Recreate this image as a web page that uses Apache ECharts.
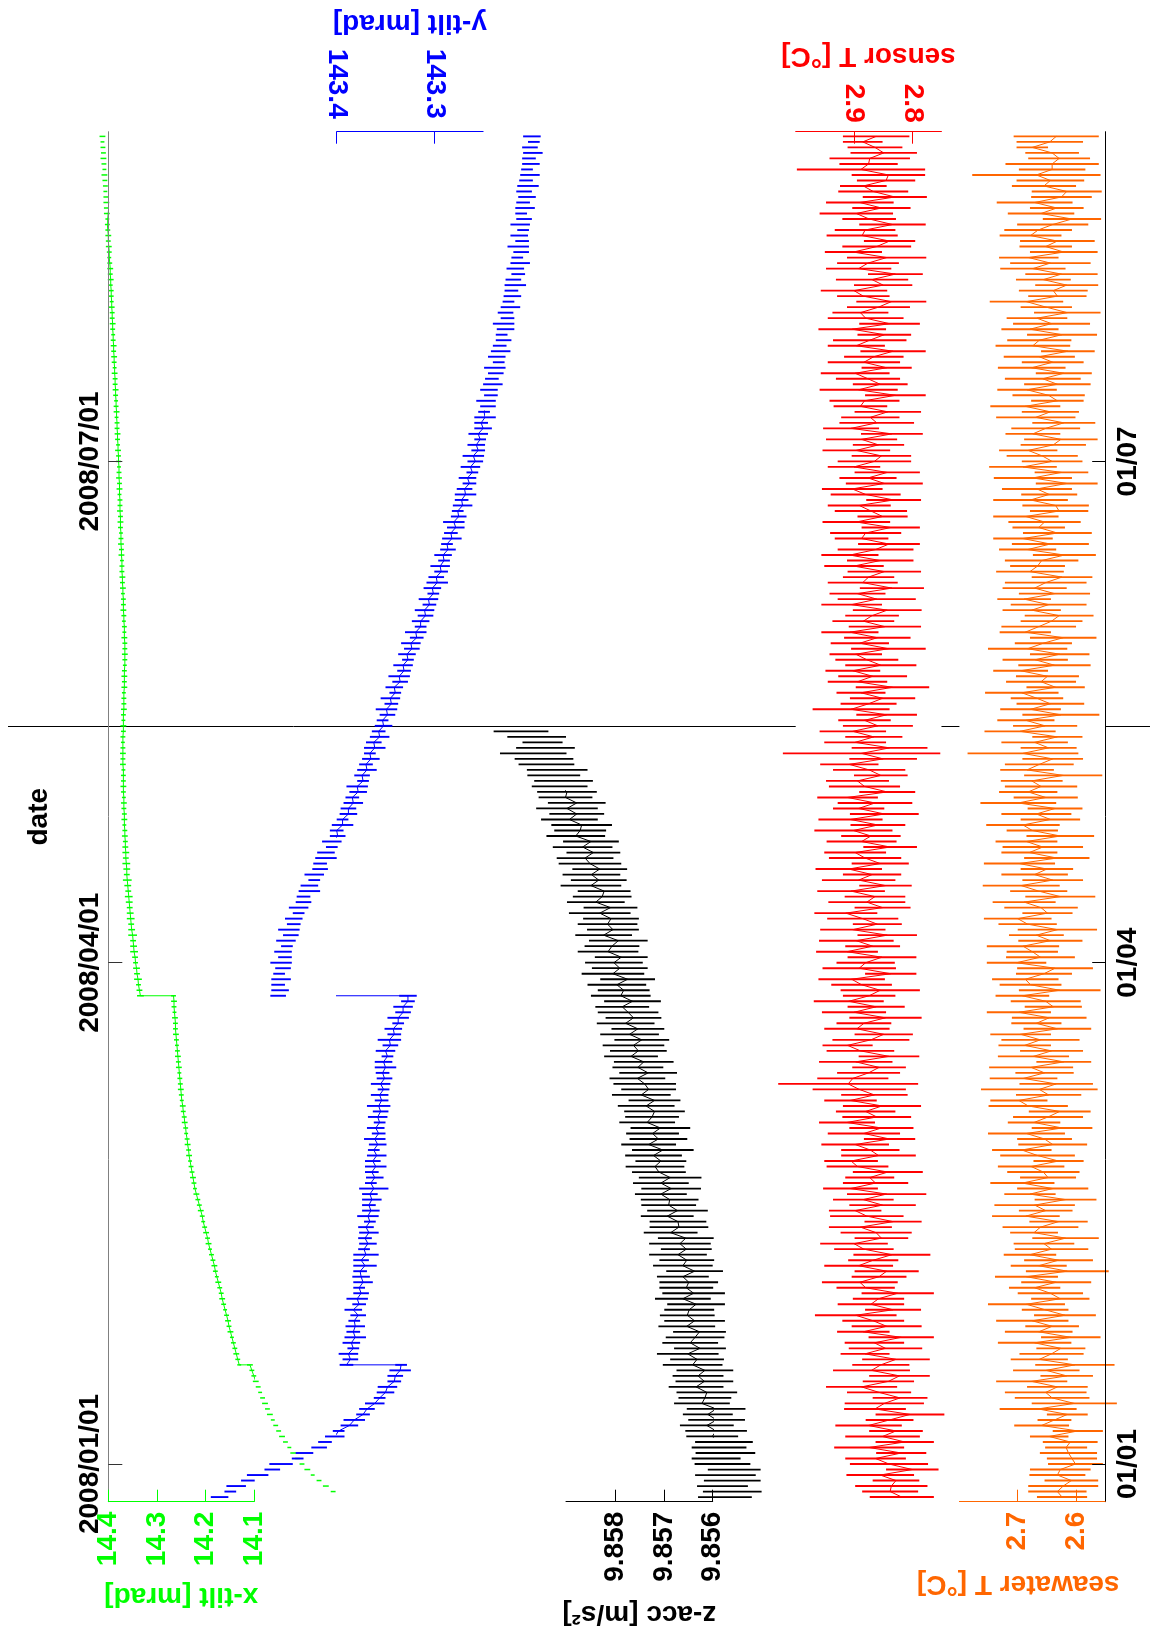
<!DOCTYPE html>
<html><head><meta charset="utf-8">
<script src="https://cdn.jsdelivr.net/npm/echarts@6.0.0/dist/echarts.min.js"></script>
<style>html,body{margin:0;padding:0;background:#fff}#c{width:1152px;height:1651px}</style>
</head><body><div id="c"></div>
<script>
// ---------- time / tick data ----------
const axisStart = '2007-12-25T03:50:00Z';
const axisEnd = '2008-08-29T20:24:00Z';
const tickDates = ['2008-01-01', '2008-04-01', '2008-07-01'];
const leftTickLabels = ['2008/01/01', '2008/04/01', '2008/07/01'];
const rightTickLabels = ['01/01', '01/04', '01/07'];
const eventDate = '2008-05-14';
const jumpDates = ['2008-01-19', '2008-03-26'];

// ---------- x-tilt [mrad], daily from 2007-12-27 (two values on jump days) ----------
const xTiltStart = '2007-12-27';
const xTiltMean = [
13.938,13.953,13.967,13.980,13.991,14.002,14.011,14.020,14.028,14.036,
14.043,14.050,14.056,14.062,14.068,14.073,14.078,14.083,14.088,14.092,
14.097,14.101,14.105,14.109,14.131,
14.134,14.137,14.140,14.143,14.146,14.149,14.152,14.154,14.157,14.160,
14.163,14.166,14.168,14.171,14.174,14.177,14.180,14.182,14.185,14.188,
14.191,14.194,14.196,14.199,14.202,14.205,14.207,14.210,14.213,14.216,
14.219,14.222,14.224,14.226,14.228,14.230,14.232,14.234,14.235,14.237,
14.238,14.240,14.241,14.243,14.244,14.246,14.247,14.249,14.250,14.251,
14.252,14.253,14.254,14.255,14.256,14.257,14.258,14.259,14.260,14.261,
14.262,14.262,14.263,14.264,14.265,14.265,14.266,14.334,
14.336,14.338,14.339,14.341,14.342,14.344,14.345,14.347,14.348,14.349,
14.350,14.352,14.353,14.354,14.355,14.356,14.357,14.358,14.359,14.360,
14.361,14.362,14.362,14.363,14.364,14.364,14.365,14.365,14.366,14.366,
14.367,14.367,14.367,14.368,14.368,14.368,14.369,14.369,14.369,14.369,
14.369,14.370,14.370,14.370,14.370,14.370,14.370,14.369,14.369,14.369,
14.369,14.368,14.368,14.368,14.368,14.367,14.367,14.367,14.367,14.366,
14.366,14.366,14.366,14.366,14.367,14.367,14.367,14.368,14.368,14.369,
14.369,14.369,14.370,14.370,14.371,14.371,14.372,14.372,14.372,14.373,
14.373,14.374,14.374,14.374,14.375,14.375,14.375,14.376,14.376,14.376,
14.377,14.377,14.377,14.378,14.378,14.378,14.379,14.379,14.380,14.380,
14.381,14.381,14.382,14.382,14.383,14.383,14.384,14.384,14.385,14.385,
14.386,14.386,14.387,14.387,14.388,14.388,14.389,14.389,14.390,14.390,
14.391,14.391,14.392,14.392,14.393,14.393,14.394,14.394,14.395,14.395,
14.396,14.396,14.397,14.398,14.398,14.399,14.400,14.400,14.401,14.402,
14.402,14.403,14.404,14.404,14.405,14.406,14.406,14.407,14.408,14.408,
14.409,14.410,14.410,14.411,14.412,14.412];
const xTiltErr = [
0.005,0.006,0.005,0.004,0.006,0.005,0.005,0.006,0.004,0.005,
0.006,0.005,0.005,0.004,0.006,0.005,0.006,0.005,0.004,0.005,
0.006,0.005,0.005,0.006,0.004,0.005,0.006,0.005,0.005,0.004,
0.006,0.005,0.006,0.005,0.004,0.005,0.006,0.005,0.005,0.006,
0.004,0.005,0.006,0.005,0.005,0.004,0.006,0.005,0.006,0.005,
0.004,0.005,0.006,0.005,0.005,0.006,0.004,0.005,0.006,0.005,
0.005,0.004,0.006,0.005,0.006,0.005,0.004,0.005,0.006,0.005,
0.005,0.006,0.004,0.005,0.006,0.005,0.005,0.004,0.006,0.005,
0.006,0.005,0.004,0.005,0.006,0.005,0.005,0.006,0.004,0.005,
0.006,0.005,0.007,0.006,0.005,0.008,0.006,0.007,0.005,0.006,
0.008,0.007,0.006,0.009,0.007,0.006,0.008,0.007,0.006,0.007,
0.008,0.006,0.007,0.009,0.006,0.007,0.008,0.006,0.007,0.006,
0.005,0.006,0.005,0.004,0.006,0.005,0.005,0.006,0.004,0.005,
0.006,0.005,0.005,0.004,0.006,0.005,0.006,0.005,0.004,0.005,
0.005,0.006,0.004,0.005,0.006,0.005,0.005,0.004,0.006,0.005,
0.006,0.005,0.004,0.005,0.006,0.005,0.005,0.006,0.004,0.005,
0.004,0.005,0.006,0.005,0.005,0.004,0.006,0.005,0.006,0.005,
0.005,0.004,0.006,0.005,0.006,0.005,0.004,0.005,0.006,0.005,
0.006,0.005,0.005,0.004,0.006,0.005,0.006,0.005,0.004,0.005,
0.005,0.006,0.004,0.005,0.006,0.005,0.005,0.004,0.006,0.005,
0.004,0.005,0.006,0.005,0.005,0.006,0.004,0.005,0.006,0.005,
0.006,0.005,0.004,0.005,0.006,0.005,0.005,0.006,0.004,0.005,
0.005,0.004,0.006,0.005,0.006,0.005,0.004,0.005,0.006,0.005,
0.006,0.005,0.005,0.004,0.006,0.005,0.006,0.005,0.004,0.005,
0.005,0.006,0.004,0.005,0.006,0.005,0.005,0.004,0.006];

// ---------- y-tilt [mrad], daily from 2007-12-26 ----------
const yTiltStart = '2007-12-26';
const yTiltMean = [
143.520,143.509,143.503,143.491,143.481,143.466,143.457,143.440,143.433,143.418,
143.412,143.402,143.398,143.387,143.382,143.373,143.369,143.361,143.356,143.350,
143.348,143.341,143.340,143.335,143.334,143.390,
143.386,143.388,143.383,143.385,143.381,143.383,143.381,143.382,143.378,143.383,
143.377,143.379,143.375,143.377,143.373,143.375,143.376,143.371,143.375,143.370,
143.372,143.368,143.371,143.367,143.370,143.366,143.368,143.365,143.367,143.364,
143.366,143.362,143.365,143.361,143.364,143.360,143.363,143.359,143.362,143.358,
143.361,143.357,143.360,143.356,143.358,143.355,143.357,143.354,143.356,143.352,
143.355,143.351,143.353,143.350,143.352,143.348,143.350,143.345,143.346,143.341,
143.342,143.337,143.337,143.332,143.332,143.327,143.327,143.460,
143.458,143.460,143.457,143.459,143.455,143.457,143.453,143.455,143.451,143.452,
143.447,143.449,143.444,143.444,143.439,143.439,143.434,143.434,143.428,143.428,
143.423,143.423,143.417,143.417,143.411,143.411,143.405,143.405,143.399,143.400,
143.394,143.394,143.388,143.388,143.383,143.384,143.378,143.379,143.373,143.374,
143.369,143.370,143.365,143.366,143.361,143.362,143.356,143.357,143.352,143.353,
143.348,143.349,143.344,143.345,143.340,143.341,143.335,143.336,143.331,143.332,
143.327,143.328,143.323,143.324,143.318,143.319,143.314,143.314,143.309,143.310,
143.305,143.306,143.301,143.302,143.297,143.298,143.293,143.294,143.290,143.291,
143.286,143.287,143.282,143.283,143.278,143.280,143.275,143.276,143.271,143.272,
143.268,143.269,143.264,143.266,143.261,143.263,143.258,143.260,143.255,143.257,
143.253,143.255,143.250,143.252,143.248,143.249,143.245,143.247,143.242,143.244,
143.240,143.241,143.237,143.238,143.234,143.236,143.232,143.233,143.229,143.231,
143.227,143.229,143.225,143.227,143.222,143.224,143.220,143.221,143.217,143.219,
143.214,143.217,143.212,143.215,143.211,143.214,143.210,143.213,143.209,143.212,
143.208,143.211,143.207,143.209,143.205,143.208,143.204,143.206,143.202,143.205,
143.201,143.203,143.199,143.202,143.198,143.200];
const yTiltErr = [
0.009,0.006,0.010,0.007,0.011,0.008,0.012,0.006,0.009,0.008,
0.007,0.010,0.006,0.009,0.011,0.007,0.008,0.010,0.006,0.009,
0.010,0.007,0.008,0.011,0.006,0.007,
0.008,0.010,0.006,0.009,0.011,0.007,0.010,0.006,0.008,0.009,
0.007,0.011,0.008,0.006,0.010,0.009,0.007,0.012,0.008,0.013,
0.006,0.009,0.007,0.010,0.008,0.006,0.011,0.009,0.007,0.010,
0.008,0.015,0.006,0.009,0.007,0.011,0.008,0.010,0.006,0.009,
0.011,0.007,0.009,0.006,0.010,0.008,0.012,0.007,0.009,0.006,
0.010,0.008,0.007,0.011,0.009,0.006,0.010,0.008,0.012,0.007,
0.009,0.006,0.011,0.008,0.010,0.007,0.009,0.008,
0.009,0.007,0.010,0.006,0.008,0.011,0.007,0.009,0.006,0.010,
0.008,0.011,0.007,0.009,0.006,0.010,0.008,0.007,0.011,0.009,
0.006,0.010,0.008,0.007,0.011,0.009,0.006,0.010,0.008,0.007,
0.011,0.006,0.009,0.008,0.010,0.007,0.009,0.011,0.006,0.008,
0.010,0.007,0.009,0.006,0.011,0.008,0.010,0.007,0.009,0.006,
0.008,0.011,0.007,0.010,0.006,0.009,0.008,0.011,0.007,0.010,
0.006,0.009,0.008,0.010,0.007,0.011,0.006,0.009,0.008,0.010,
0.007,0.010,0.006,0.009,0.011,0.008,0.007,0.010,0.006,0.009,
0.008,0.006,0.010,0.007,0.009,0.011,0.008,0.006,0.010,0.007,
0.011,0.008,0.007,0.009,0.006,0.010,0.008,0.011,0.007,0.009,
0.006,0.010,0.009,0.007,0.011,0.006,0.008,0.010,0.007,0.009,
0.010,0.007,0.008,0.011,0.006,0.009,0.010,0.007,0.008,0.006,
0.009,0.011,0.007,0.008,0.010,0.006,0.009,0.007,0.011,0.008,
0.007,0.009,0.010,0.006,0.008,0.011,0.007,0.009,0.006,0.010,
0.008,0.006,0.010,0.007,0.009,0.008,0.011,0.007,0.010,0.006,
0.009,0.007,0.010,0.008,0.006,0.009];

// ---------- z-acc [m/s^2], daily from 2007-12-26 ----------
const zAccStart = '2007-12-26';
const zAccMean = [
9.85575,9.85560,9.85580,9.85560,9.85574,9.85556,9.85580,9.85593,9.85574,9.85587,
9.85577,9.85601,9.85593,9.85612,9.85592,9.85610,9.85593,9.85622,9.85616,9.85612,
9.85634,9.85617,9.85630,9.85616,9.85641,9.85632,9.85651,9.85626,9.85646,9.85636,
9.85627,9.85653,9.85637,9.85652,9.85648,9.85634,9.85661,9.85639,9.85654,9.85649,
9.85661,9.85637,9.85661,9.85653,9.85671,9.85654,9.85667,9.85655,9.85686,9.85669,
9.85671,9.85693,9.85672,9.85690,9.85688,9.85706,9.85685,9.85706,9.85687,9.85710,
9.85718,9.85706,9.85721,9.85702,9.85731,9.85711,9.85723,9.85707,9.85734,9.85724,
9.85719,9.85736,9.85719,9.85746,9.85731,9.85739,9.85754,9.85732,9.85753,9.85741,
9.85767,9.85752,9.85762,9.85745,9.85770,9.85753,9.85778,9.85762,9.85773,9.85785,
9.85764,9.85788,9.85782,9.85796,9.85774,9.85804,9.85790,9.85802,9.85787,9.85814,
9.85806,9.85793,9.85823,9.85804,9.85815,9.85808,9.85831,9.85809,9.85839,9.85826,
9.85822,9.85849,9.85833,9.85848,9.85831,9.85851,9.85861,9.85844,9.85866,9.85849,
9.85880,9.85871,9.85868,9.85893,9.85878,9.85898,9.85878,9.85901,9.85898,9.85913,
9.85905,9.85925,9.85918,9.85940,9.85945,9.85967,9.85942,9.85948,9.85960,9.85992];
const zAccErr = [
0.00055,0.00060,0.00052,0.00058,0.00062,0.00054,0.00057,0.00050,0.00061,0.00056,
0.00059,0.00053,0.00063,0.00055,0.00058,0.00051,0.00060,0.00057,0.00054,0.00062,
0.00056,0.00059,0.00052,0.00058,0.00061,0.00055,0.00063,0.00053,0.00057,0.00060,
0.00054,0.00058,0.00062,0.00056,0.00051,0.00059,0.00057,0.00064,0.00055,0.00060,
0.00053,0.00058,0.00061,0.00056,0.00059,0.00052,0.00063,0.00057,0.00055,0.00060,
0.00058,0.00054,0.00062,0.00056,0.00059,0.00053,0.00061,0.00057,0.00064,0.00055,
0.00060,0.00052,0.00058,0.00063,0.00056,0.00059,0.00054,0.00061,0.00057,0.00055,
0.00062,0.00058,0.00053,0.00060,0.00056,0.00064,0.00057,0.00059,0.00052,0.00061,
0.00055,0.00058,0.00063,0.00056,0.00060,0.00054,0.00059,0.00057,0.00062,0.00055,
0.00058,0.00061,0.00053,0.00060,0.00056,0.00064,0.00057,0.00059,0.00054,0.00062,
0.00056,0.00060,0.00058,0.00053,0.00061,0.00057,0.00063,0.00055,0.00059,0.00060,
0.00054,0.00062,0.00057,0.00059,0.00056,0.00064,0.00058,0.00055,0.00061,0.00057,
0.00060,0.00053,0.00062,0.00058,0.00056,0.00063,0.00059,0.00055,0.00061,0.00057,
0.00060,0.00054,0.00062,0.00057,0.00060,0.00068,0.00060,0.00041,0.00060,0.00056];

// ---------- sensor T [°C], daily from 2007-12-26 ----------
const sensorStart = '2007-12-26';
const sensorMean = [
2.818,2.838,2.836,2.828,2.855,2.800,2.840,2.863,2.819,2.874,
2.813,2.851,2.828,2.875,2.839,2.804,2.864,2.848,2.821,2.857,
2.887,2.841,2.822,2.870,2.854,2.828,2.881,2.846,2.865,2.819,
2.884,2.844,2.867,2.897,2.833,2.871,2.858,2.825,2.880,2.890,
2.857,2.844,2.892,2.867,2.835,2.883,2.900,2.853,2.862,2.889,
2.833,2.878,2.898,2.851,2.884,2.844,2.906,2.863,2.873,2.842,
2.894,2.905,2.858,2.872,2.898,2.839,2.883,2.853,2.912,2.861,
2.880,2.852,2.906,2.865,2.891,2.910,2.902,2.875,2.857,2.897,
2.840,2.889,2.911,2.871,2.849,2.895,2.883,2.846,2.900,2.862,
2.909,2.874,2.855,2.887,2.904,2.837,2.891,2.880,2.852,2.912,
2.868,2.896,2.843,2.902,2.860,2.885,2.914,2.851,2.878,2.864,
2.905,2.846,2.892,2.869,2.909,2.855,2.881,2.898,2.838,2.887,
2.871,2.901,2.859,2.906,2.848,2.892,2.864,2.911,2.843,2.882,
2.894,2.854,2.874,2.908,2.850,2.887,2.839,2.898,2.866,2.902,
2.859,2.882,2.844,2.905,2.875,2.851,2.888,2.834,2.894,2.868,
2.902,2.854,2.878,2.897,2.841,2.890,2.860,2.907,2.847,2.884,
2.869,2.843,2.904,2.861,2.894,2.835,2.885,2.875,2.848,2.900,
2.855,2.907,2.863,2.840,2.887,2.880,2.837,2.896,2.851,2.871,
2.891,2.832,2.880,2.903,2.848,2.876,2.843,2.900,2.865,2.853,
2.896,2.858,2.887,2.835,2.905,2.861,2.872,2.842,2.889,2.882,
2.829,2.892,2.855,2.876,2.898,2.844,2.883,2.866,2.833,2.896,
2.873,2.848,2.903,2.839,2.880,2.889,2.858,2.836,2.884,2.900,
2.850,2.869,2.829,2.892,2.876,2.844,2.901,2.861,2.839,2.886,
2.881,2.834,2.874,2.896,2.853,2.890,2.830,2.867,2.884,2.845,
2.841,2.888,2.875,2.873,2.849,2.864,2.885,2.862];
const sensorErr = [
0.055,0.048,0.062,0.040,0.058,0.045,0.067,0.052,0.043,0.060,
0.050,0.064,0.046,0.057,0.041,0.059,0.053,0.068,0.047,0.055,
0.061,0.044,0.052,0.066,0.049,0.058,0.042,0.063,0.051,0.056,
0.045,0.060,0.053,0.070,0.048,0.057,0.044,0.062,0.050,0.065,
0.047,0.055,0.059,0.043,0.066,0.051,0.058,0.046,0.061,0.054,
0.049,0.063,0.045,0.057,0.052,0.068,0.047,0.056,0.042,0.060,
0.053,0.046,0.064,0.050,0.058,0.044,0.062,0.055,0.048,0.059,
0.051,0.067,0.045,0.057,0.080,0.120,0.061,0.054,0.046,0.063,
0.052,0.058,0.043,0.066,0.050,0.056,0.047,0.062,0.055,0.049,
0.060,0.045,0.068,0.052,0.057,0.044,0.063,0.050,0.059,0.053,
0.047,0.064,0.051,0.056,0.042,0.061,0.054,0.048,0.066,0.052,
0.058,0.045,0.063,0.050,0.057,0.049,0.062,0.053,0.046,0.060,
0.051,0.067,0.047,0.055,0.059,0.044,0.064,0.052,0.048,0.061,
0.054,0.046,0.062,0.050,0.058,0.135,0.065,0.053,0.049,0.057,
0.060,0.045,0.052,0.066,0.048,0.056,0.042,0.063,0.051,0.059,
0.047,0.061,0.054,0.045,0.064,0.050,0.057,0.049,0.062,0.053,
0.046,0.059,0.052,0.067,0.048,0.055,0.060,0.044,0.063,0.051,
0.057,0.049,0.065,0.053,0.046,0.061,0.050,0.058,0.043,0.062,
0.054,0.047,0.060,0.052,0.066,0.049,0.056,0.045,0.063,0.051,
0.058,0.044,0.061,0.053,0.048,0.064,0.050,0.057,0.046,0.060,
0.052,0.067,0.047,0.055,0.059,0.043,0.062,0.051,0.056,0.049,
0.063,0.046,0.058,0.052,0.065,0.048,0.054,0.060,0.045,0.057,
0.050,0.062,0.047,0.056,0.053,0.068,0.049,0.059,0.044,0.061,
0.052,0.057,0.046,0.063,0.050,0.058,0.055,0.060,0.040,0.050,
0.063,0.110,0.050,0.069,0.057,0.047,0.034,0.057];

// ---------- seawater T [°C], daily from 2007-12-26 ----------
const seawaterStart = '2007-12-26';
const seawaterMean = [
2.624,2.632,2.622,2.608,2.632,2.627,2.601,2.607,2.613,2.617,
2.610,2.646,2.597,2.659,2.637,2.615,2.665,2.603,2.641,2.652,
2.632,2.676,2.616,2.651,2.602,2.663,2.642,2.626,2.671,2.609,
2.664,2.641,2.675,2.619,2.653,2.685,2.627,2.644,2.671,2.634,
2.685,2.615,2.664,2.630,2.679,2.642,2.655,2.618,2.672,2.661,
2.630,2.686,2.652,2.671,2.618,2.679,2.640,2.692,2.648,2.656,
2.677,2.630,2.666,2.693,2.640,2.654,2.685,2.624,2.672,2.648,
2.628,2.682,2.698,2.647,2.663,2.634,2.690,2.654,2.677,2.621,
2.673,2.642,2.688,2.661,2.695,2.632,2.668,2.646,2.698,2.639,
2.652,2.692,2.628,2.678,2.687,2.655,2.636,2.702,2.661,2.675,
2.691,2.644,2.668,2.632,2.683,2.700,2.649,2.660,2.689,2.627,
2.664,2.694,2.640,2.671,2.650,2.697,2.633,2.680,2.657,2.685,
2.627,2.675,2.691,2.644,2.668,2.636,2.699,2.652,2.682,2.660,
2.676,2.622,2.684,2.663,2.640,2.691,2.647,2.671,2.632,2.696,
2.653,2.686,2.626,2.678,2.644,2.667,2.693,2.635,2.660,2.649,
2.695,2.637,2.670,2.628,2.683,2.656,2.622,2.687,2.664,2.642,
2.629,2.676,2.647,2.689,2.637,2.671,2.652,2.624,2.679,2.666,
2.659,2.620,2.683,2.644,2.691,2.632,2.664,2.654,2.686,2.629,
2.635,2.678,2.646,2.667,2.616,2.674,2.625,2.691,2.641,2.658,
2.682,2.639,2.626,2.674,2.652,2.621,2.669,2.644,2.687,2.632,
2.647,2.684,2.632,2.657,2.621,2.676,2.640,2.663,2.614,2.674,
2.663,2.624,2.679,2.642,2.667,2.615,2.651,2.685,2.632,2.639,
2.616,2.656,2.625,2.674,2.644,2.681,2.621,2.652,2.632,2.678,
2.665,2.640,2.607,2.660,2.633,2.671,2.625,2.616,2.655,2.644,
2.668,2.641,2.641,2.629,2.641,2.675,2.645,2.634];
const seawaterErr = [
0.043,0.050,0.060,0.046,0.048,0.052,0.047,0.043,0.049,0.036,
0.047,0.033,0.043,0.047,0.029,0.035,0.066,0.073,0.064,0.070,
0.052,0.061,0.045,0.057,0.068,0.049,0.055,0.042,0.063,0.051,
0.058,0.046,0.062,0.053,0.040,0.066,0.050,0.056,0.044,0.060,
0.054,0.071,0.048,0.059,0.045,0.063,0.052,0.057,0.041,0.065,
0.050,0.058,0.046,0.069,0.053,0.044,0.061,0.055,0.048,0.062,
0.057,0.043,0.064,0.051,0.059,0.047,0.066,0.052,0.045,0.060,
0.053,0.068,0.049,0.056,0.100,0.063,0.058,0.050,0.072,0.047,
0.061,0.054,0.045,0.067,0.052,0.058,0.043,0.064,0.055,0.049,
0.060,0.046,0.070,0.053,0.057,0.048,0.065,0.051,0.059,0.044,
0.062,0.055,0.047,0.068,0.050,0.058,0.043,0.063,0.054,0.060,
0.049,0.066,0.052,0.057,0.045,0.061,0.056,0.048,0.069,0.053,
0.058,0.044,0.063,0.051,0.060,0.047,0.065,0.055,0.050,0.062,
0.053,0.067,0.046,0.059,0.052,0.095,0.048,0.057,0.043,0.061,
0.055,0.049,0.066,0.052,0.058,0.045,0.063,0.050,0.060,0.054,
0.047,0.062,0.056,0.051,0.068,0.049,0.057,0.044,0.064,0.053,
0.059,0.050,0.065,0.046,0.061,0.055,0.070,0.052,0.058,0.047,
0.063,0.054,0.049,0.066,0.051,0.059,0.045,0.062,0.056,0.050,
0.057,0.064,0.048,0.060,0.053,0.067,0.046,0.058,0.052,0.061,
0.050,0.056,0.063,0.047,0.059,0.054,0.068,0.049,0.060,0.045,
0.062,0.051,0.057,0.065,0.048,0.058,0.053,0.061,0.046,0.064,
0.055,0.060,0.049,0.066,0.052,0.057,0.044,0.063,0.050,0.059,
0.054,0.047,0.062,0.056,0.069,0.051,0.058,0.045,0.064,0.053,
0.058,0.061,0.050,0.057,0.046,0.065,0.052,0.060,0.055,0.058,
0.110,0.057,0.080,0.053,0.046,0.027,0.057,0.073];

// ---------- value-axis ticks ----------
const xTiltTicks = [14.1, 14.2, 14.3, 14.4];
const xTiltTickLabels = ['14.1', '14.2', '14.3', '14.4'];
const yTiltTicks = [143.3, 143.4];
const yTiltTickLabels = ['143.3', '143.4'];
const zAccTicks = [9.856, 9.857, 9.858];
const zAccTickLabels = ['9.856', '9.857', '9.858'];
const sensorTicks = [2.8, 2.9];
const sensorTickLabels = ['2.8', '2.9'];
const seawaterTicks = [2.6, 2.7];
const seawaterTickLabels = ['2.6', '2.7'];

// ---------- build ----------
const DAY = 86400000;
const tms = s => Date.parse(s.length === 10 ? s + 'T00:00:00Z' : s);
const jumpTimes = jumpDates.map(tms);
function daily(start, means, errs, withJumps) {
  const t0 = tms(start); const out = []; let k = 0; let day = 0;
  while (k < means.length) {
    const t = t0 + day * DAY;
    out.push([means[k], t, errs[k]]); k++;
    if (withJumps && jumpTimes.includes(t) && k < means.length) { out.push([means[k], t, errs[k]]); k++; }
    day++;
  }
  return out;
}
const FONT = { fontFamily: '"Liberation Sans", Arial, Helvetica, sans-serif', fontWeight: 'bold', fontSize: 28 };
const TOP = 131.7, HEIGHT = 1370;
const tickTimes = tickDates.map(tms);
const tMin = tms(axisStart), tMax = tms(axisEnd);
const tickLabel = (list, labels, v) => { const j = list.findIndex(t => Math.abs(t - v) < 1e-6 * Math.max(1, Math.abs(t))); return j >= 0 ? labels[j] : ''; };

const panels = [
  { left: 108.3, width: 146.0, min: 14.1, max: 14.4, pos: 'bottom', color: '#00ff00', name: 'x-tilt [mrad]', gap: 80, margin: 10,
    ticks: xTiltTicks, labels: xTiltTickLabels, data: daily(xTiltStart, xTiltMean, xTiltErr, true), bw: 1.5 },
  { left: 336.7, width: 146.4, min: 143.25, max: 143.4, pos: 'top', color: '#0000ff', name: 'y-tilt [mrad]', gap: 95, margin: 13,
    ticks: yTiltTicks, labels: yTiltTickLabels, data: daily(yTiltStart, yTiltMean, yTiltErr, true), bw: 1.9 },
  { left: 566.0, width: 146.7, min: 9.856, max: 9.859, pos: 'bottom', color: '#000000', name: 'z-acc [m/s²]', gap: 98, margin: 10,
    ticks: zAccTicks, labels: zAccTickLabels, data: daily(zAccStart, zAccMean, zAccErr, false), bw: 1.8 },
  { left: 795.7, width: 145.75, min: 2.75, max: 3.0, pos: 'top', color: '#ff0000', name: 'sensor T [°C]', gap: 62, margin: 9,
    ticks: sensorTicks, labels: sensorTickLabels, data: daily(sensorStart, sensorMean, sensorErr, false), bw: 1.9, cover: true },
  { left: 959.4, width: 145.8, min: 2.55, max: 2.8, pos: 'bottom', color: '#ff6600', name: 'seawater T [°C]', gap: 68, margin: 10, namePad: [0, 0, 0, 28],
    ticks: seawaterTicks, labels: seawaterTickLabels, data: daily(seawaterStart, seawaterMean, seawaterErr, false), bw: 1.9, cover: true }
];

const grid = [], xAxis = [], yAxis = [], series = [];
panels.forEach((p, i) => {
  grid.push({ left: p.left, width: p.width, top: TOP, height: HEIGHT, containLabel: false, outerBoundsMode: 'none',
    show: !!p.cover, backgroundColor: '#fff', borderWidth: 0, z: p.cover ? 1.5 : 0 });
  xAxis.push({ type: 'value', gridIndex: i, position: p.pos, min: p.min, max: p.max, inverse: true, z: 4,
    axisLine: { show: true, onZero: false, lineStyle: { color: p.color, width: 1 } },
    axisTick: { show: true, inside: true, length: 12, customValues: p.ticks, lineStyle: { color: p.color, width: 1 } },
    axisLabel: { show: true, rotate: 90, margin: p.margin, customValues: p.ticks, color: p.color, ...FONT,
      formatter: v => tickLabel(p.ticks, p.labels, v) },
    splitLine: { show: false },
    name: p.name, nameLocation: 'middle', nameRotate: 180, nameGap: p.gap, nameMoveOverlap: false,
    nameTextStyle: { color: p.color, ...FONT, padding: p.namePad || 0 } });
  const yBase = { type: 'value', gridIndex: i, min: tMin, max: tMax, z: 4, splitLine: { show: false } };
  if (i === 0) {
    yAxis.push({ ...yBase, position: 'left',
      axisLine: { show: true, onZero: false, lineStyle: { color: '#808080', width: 1 } },
      axisTick: { show: true, inside: true, length: 14, customValues: tickTimes, lineStyle: { color: '#333', width: 1 } },
      axisLabel: { show: true, rotate: 90, margin: 4, customValues: tickTimes, color: '#000', ...FONT,
        formatter: v => tickLabel(tickTimes, leftTickLabels, v) },
      name: 'date', nameLocation: 'middle', nameRotate: 90, nameGap: 55, nameMoveOverlap: false,
      nameTextStyle: { color: '#000', ...FONT } });
  } else if (i === 4) {
    yAxis.push({ ...yBase, position: 'right',
      axisLine: { show: true, onZero: false, lineStyle: { color: '#000', width: 1 } },
      axisTick: { show: true, inside: true, length: 13, customValues: tickTimes, lineStyle: { color: '#000', width: 1 } },
      axisLabel: { show: true, rotate: 90, margin: 9, customValues: tickTimes, color: '#000', ...FONT,
        formatter: v => tickLabel(tickTimes, rightTickLabels, v) } });
  } else {
    yAxis.push({ ...yBase, show: false });
  }
  series.push({ type: 'line', xAxisIndex: i, yAxisIndex: i, data: p.data.map(d => [d[0], d[1]]),
    symbol: 'none', showSymbol: false, clip: false, silent: true, z: 3,
    lineStyle: { color: p.color, width: 1 } });
  series.push({ type: 'custom', xAxisIndex: i, yAxisIndex: i, data: p.data, encode: { x: 0, y: 1 },
    clip: false, silent: true, z: 3,
    renderItem: (params, api) => {
      const m = api.value(0), t = api.value(1), e = api.value(2);
      const a = api.coord([m - e, t]), b = api.coord([m + e, t]);
      return { type: 'line', shape: { x1: a[0], y1: a[1], x2: b[0], y2: b[1] },
        style: { stroke: p.color, lineWidth: p.bw } };
    } });
});
// full-width event marker line
grid.push({ left: 8, right: 2, top: TOP, height: HEIGHT, outerBoundsMode: 'none', show: false });
xAxis.push({ type: 'value', gridIndex: 5, min: 0, max: 1, show: false });
yAxis.push({ type: 'value', gridIndex: 5, min: tMin, max: tMax, show: false });
series.push({ type: 'line', xAxisIndex: 5, yAxisIndex: 5, data: [], z: 1, silent: true,
  markLine: { z: 1, silent: true, symbol: ['none', 'none'], label: { show: false },
    lineStyle: { color: '#000', width: 1, type: 'solid' }, data: [{ yAxis: tms(eventDate) }] } });

const chart = echarts.init(document.getElementById('c'), null, { renderer: 'canvas' });
chart.setOption({ animation: false, backgroundColor: '#fff', grid, xAxis, yAxis, series });
</script></body></html>
